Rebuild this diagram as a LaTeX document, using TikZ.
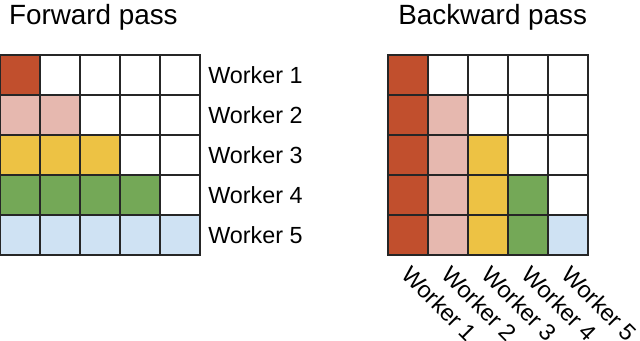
\documentclass[tikz,border=0pt]{standalone}
\usepackage{fontspec}
\setmainfont{Liberation Sans}
\usetikzlibrary{positioning}
\definecolor{wred}{HTML}{C14F2D}
\definecolor{wpink}{HTML}{E6B8AF}
\definecolor{wyel}{HTML}{EDC244}
\definecolor{wgreen}{HTML}{74A857}
\definecolor{wblue}{HTML}{CFE2F3}

\begin{document}
\begin{tikzpicture}[
    cell/.style={draw=black!85, line width=1pt, minimum size=1cm,
                 inner sep=0pt, outer sep=0pt},
    wlab/.style={font=\fontsize{16.6}{18}\selectfont, inner sep=0pt},
    ttl/.style={font=\fontsize{19.8}{22}\selectfont, inner sep=0pt,
                anchor=base west}
  ]
  \useasboundingbox (0,0) rectangle (16,-8.525);
  %% --- Titles ---
  \node[ttl] (fwd) at (0.22,-0.61) {Forward pass};
  \node[ttl] (bwd) at (9.95,-0.61) {Backward pass};

  %% --- Grids: forward coloured by row, backward by column ---
  \foreach \r/\rc in {1/wred,2/wpink,3/wyel,4/wgreen,5/wblue} {
    \foreach \k/\kc in {1/wred,2/wpink,3/wyel,4/wgreen,5/wblue} {
      \ifnum\k>\r \def\fa{white}\def\fb{white}\else \def\fa{\rc}\def\fb{\kc}\fi
      \node[cell, fill=\fa] (f\r\k) at (\k-0.5, -0.875-\r) {};
      \node[cell, fill=\fb] (b\r\k) at (9.2+\k, -0.875-\r) {};
    }
  }
  % Worker labels
  \foreach \r in {1,...,5} {
    \node[wlab, right=0.2cm of f\r5] (fl\r) {Worker \r};
    \node[wlab, rotate=-45, anchor=base west] (bl\r)
          at ([xshift=-0.2cm, yshift=-0.525cm]b5\r.south) {Worker \r};
  }
\end{tikzpicture}
\end{document}
